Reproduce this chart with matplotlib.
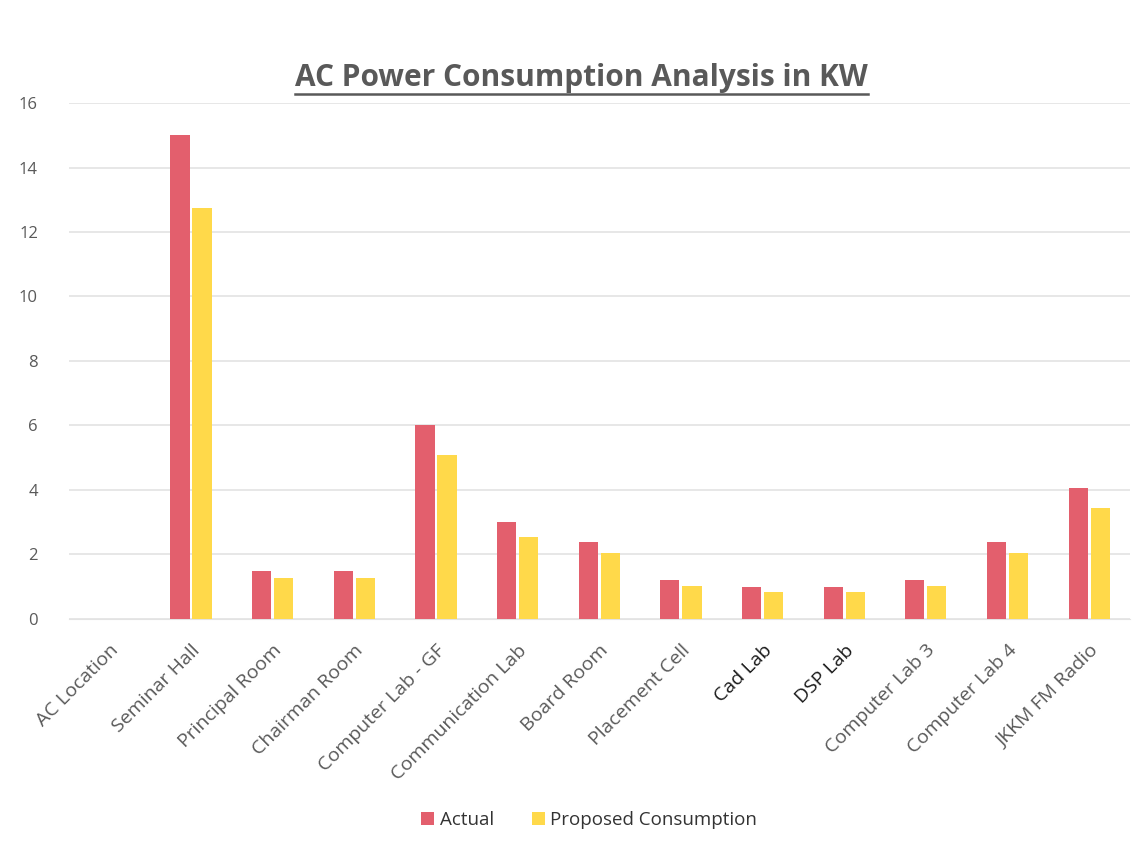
import numpy as np
import matplotlib
matplotlib.use('Agg')
import matplotlib.pyplot as plt
from matplotlib.lines import Line2D
plt.rcParams['font.family'] = ['Open Sans', 'DejaVu Sans']

# Data (kW)
locations = ['AC Location', 'Seminar Hall', 'Principal Room', 'Chairman Room',
             'Computer Lab - GF', 'Communication Lab', 'Board Room', 'Placement Cell',
             'Cad Lab', 'DSP Lab', 'Computer Lab 3', 'Computer Lab 4', 'JKKM FM Radio']
actual = [0, 15, 1.5, 1.5, 6, 3, 2.4, 1.2, 1.0, 1.0, 1.2, 2.4, 4.05]
proposed = [0, 12.75, 1.275, 1.275, 5.1, 2.55, 2.04, 1.02, 0.85, 0.85, 1.02, 2.04, 3.44]

red = '#E35F6D'
yellow = '#FFD94A'
grey = '#595959'

fig = plt.figure(figsize=(11.42, 8.52), dpi=100)
ax = fig.add_axes([0.060, 0.2735, 0.9295, 0.6056])

x = np.arange(len(locations))
w = 0.235
ax.bar(x - 0.135, actual, w, color=red, label='Actual', zorder=3)
ax.bar(x + 0.135, proposed, w, color=yellow, label='Proposed Consumption', zorder=3)

ax.set_xlim(-0.5, len(locations) - 0.5)
ax.set_ylim(0, 16)
ax.set_yticks(range(0, 17, 2))
ax.yaxis.grid(True, color='#E3E3E3', linewidth=1.2, zorder=0)
for s in ax.spines.values():
    s.set_visible(False)
ax.spines['bottom'].set_visible(True)
ax.spines['bottom'].set_color('#E3E3E3')
ax.tick_params(axis='both', length=0, labelsize=12, colors=grey)
ax.tick_params(axis='y', pad=22)
ax.set_xticks(x)
ax.set_xticklabels(locations, rotation=45, ha='right', rotation_mode='anchor')
ax.tick_params(axis='x', pad=16, labelsize=14)
for lbl in ax.get_xticklabels():
    if lbl.get_text() in ('Cad Lab', 'DSP Lab'):
        lbl.set_color('#1a1a1a')

leg = fig.legend(loc='center', bbox_to_anchor=(0.516, 0.037), ncol=2, frameon=False,
                 fontsize=13.5, handlelength=0.7, handleheight=0.7,
                 handletextpad=0.3, columnspacing=2.0)
for t in leg.get_texts():
    t.set_color('#333333')

title = fig.text(0.509, 0.908, 'AC Power Consumption Analysis in KW', ha='center', va='center',
                 fontsize=21.5, fontweight='bold', color=grey)

# underline the title
fig.canvas.draw()
bb = title.get_window_extent().transformed(fig.transFigure.inverted())
fig.add_artist(Line2D([bb.x0, bb.x1], [bb.y0 - 0.001, bb.y0 - 0.001],
                      transform=fig.transFigure, color=grey, linewidth=1.8))

fig.savefig('out.png', dpi=100)
